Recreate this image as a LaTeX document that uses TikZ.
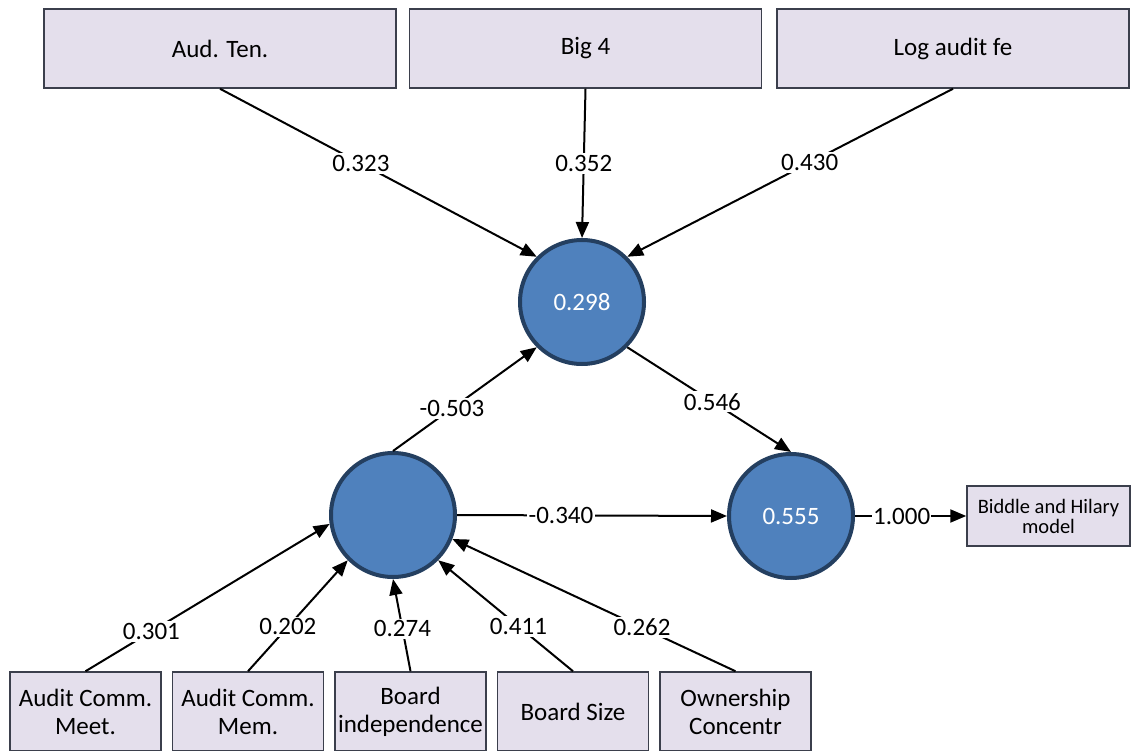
\documentclass[tikz,border=0pt]{standalone}
\usepackage{fontspec}
\setmainfont{Carlito}
\usepackage{tikz}
\definecolor{boxfill}{HTML}{E4DFEC}
\definecolor{boxdraw}{HTML}{3B3F4C}
\definecolor{lvfill}{HTML}{4F81BD}
\definecolor{lvdraw}{HTML}{243F60}
\tikzset{
  big_font/.style = {font=\fontsize{25}{28}\selectfont},
  small_font/.style = {font=\fontsize{20.5}{20}\selectfont},
  box_background/.style = {fill=boxfill}
}
\tikzset{
  indicator/.style = {big_font, align=center, draw=boxdraw, line width=1.5pt, box_background, inner sep=0},
  top_box/.style = {indicator, minimum width=352, minimum height=79},
  bottom_box/.style = {indicator, minimum width=151, minimum height=79},
  model_box/.style = {indicator, small_font, minimum width=163, minimum height=60},
  construct/.style = {circle, draw=lvdraw, line width=4pt, fill=lvfill, minimum size=124, inner sep=0, text=white, big_font},
  path_arrow/.style = {line width=2pt, -{Triangle[length=16pt,width=13pt]}},
  coef/.style = {big_font, fill=white, inner sep=2pt}
}
\usetikzlibrary{arrows.meta, positioning}

\begin{document}
\begin{tikzpicture}[x=1pt, y=-1pt, node distance=10pt]{
        \useasboundingbox (0,0) rectangle (1145,751);

        % Top indicators
        \node[top_box] at (220,48.5) (aud) {Aud. Ten.};
        \node[top_box, right=12pt of aud] (big) {Big 4};
        \node[top_box, right=14pt of big] (fee) {Log audit fe};

        % Constructs
        \node[construct] at (582,302) (c1) {0.298};
        \node[construct] at (393,515) (c2) {};
        \node[construct] at (791,516) (c3) {0.555};

        \node[model_box] at (1048.5,516) (bh) {Biddle and Hilary\\model};

        % Bottom indicators
        \node[bottom_box] at (85.5,711.5) (acmeet) {Audit Comm.\\Meet.};
        \node[bottom_box, right=of acmeet] (acmem) {Audit Comm.\\Mem.};
        \node[bottom_box, right=of acmem] (bind) {Board\\independence};
        \node[bottom_box, right=of bind] (bsize) {Board Size};
        \node[bottom_box, right=of bsize] (own) {Ownership\\Concentr};

        % Arrows and labels
        \draw[path_arrow] (aud.south) -- node[coef, pos=0.445] {0.323} (c1.135);
        \draw[path_arrow] (big.south) -- node[coef, pos=0.5] {0.352} (c1.north);
        \draw[path_arrow] (fee.south) -- node[coef, pos=0.44] {0.430} (c1.45);

        \draw[path_arrow] (c1.315) -- node[coef, pos=0.52] {0.546} (c3.north);
        \draw[path_arrow] (c2.north) -- node[coef, pos=0.41] {-0.503} (c1.225);
        \draw[path_arrow] (c2.east) -- node[coef, pos=0.385] {-0.340} (c3.west);
        \draw[path_arrow] (c3.east) -- node[coef, pos=0.42, inner sep=1pt] {1.000} (bh.west);

        \draw[path_arrow] (acmeet.north) -- node[coef, pos=0.27] {0.301} (c2.188);
        \draw[path_arrow] (acmem.north) -- node[coef, pos=0.4] {0.202} (c2.225);
        \draw[path_arrow] (bind.north) -- node[coef, pos=0.46] {0.274} (c2.south);
        \draw[path_arrow] (bsize.north) -- node[coef, pos=0.405] {0.411} (c2.315);
        \draw[path_arrow] (own.north) -- node[coef, pos=0.33] {0.262} (c2.338);
        }
\end{tikzpicture}
\end{document}
